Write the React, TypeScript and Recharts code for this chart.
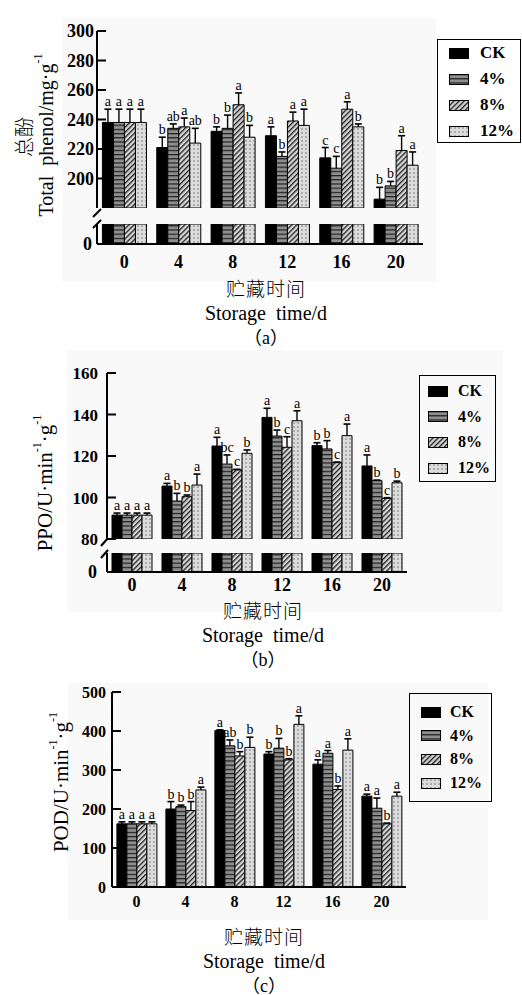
import React from 'react';
import { BarChart, Bar, XAxis, YAxis, LabelList } from 'recharts';

const days = ['0', '4', '8', '12', '16', '20'];
const treatments = ['CK', '4%', '8%', '12%'];

// (a) total phenol, mg/g
const phenolCK = [238, 221, 232, 229, 214, 186];
const phenol4 = [238, 234, 234, 215, 207, 195];
const phenol8 = [238, 235, 250, 239, 247, 219];
const phenol12 = [238, 224, 228, 236, 235, 209];
const phenolErrCK = [9, 7, 3, 6, 7, 8];
const phenolErr4 = [9, 3, 9, 3, 8, 3];
const phenolErr8 = [9, 6, 8, 6, 5, 10];
const phenolErr12 = [9, 10, 8, 11, 2, 9];
const phenolSigCK = ['a', 'b', 'b', 'a', 'c', 'b'];
const phenolSig4 = ['a', 'ab', 'b', 'b', 'c', 'b'];
const phenolSig8 = ['a', 'a', 'a', 'a', 'a', 'a'];
const phenolSig12 = ['a', 'ab', 'b', 'a', 'b', 'a'];

// (b) PPO
const ppoCK = [91.5, 105.5, 124.8, 138.6, 125, 115.2];
const ppo4 = [91.5, 98.3, 116.1, 129.6, 123.4, 108.1];
const ppo8 = [91.5, 100.4, 113.3, 124.2, 116.8, 99.6];
const ppo12 = [91.5, 106, 121.3, 137, 129.8, 107.1];
const ppoErrCK = [1, 1.3, 4.2, 4.4, 1.4, 5.3];
const ppoErr4 = [1, 3.7, 4.4, 2.9, 4, 0.3];
const ppoErr8 = [1, 0.8, 0.3, 5.1, 0.3, 0.3];
const ppoErr12 = [1, 5.3, 1.6, 4.8, 5.6, 0.8];
const ppoSigCK = ['a', 'a', 'a', 'a', 'b', 'a'];
const ppoSig4 = ['a', 'b', 'bc', 'b', 'b', 'b'];
const ppoSig8 = ['a', 'b', 'c', 'c', 'c', 'c'];
const ppoSig12 = ['a', 'a', 'b', 'a', 'a', 'b'];

// (c) POD
const podCK = [162, 200, 401, 341, 315, 233];
const pod4 = [162, 206, 362, 356, 343, 202];
const pod8 = [162, 196, 336, 326, 250, 162];
const pod12 = [162, 249, 358, 417, 351, 233];
const podErrCK = [5, 19, 2, 6, 11, 5];
const podErr4 = [5, 4, 15, 25, 7, 26];
const podErr8 = [5, 23, 11, 3, 9, 2];
const podErr12 = [5, 7, 26, 22, 29, 10];
const podSigCK = ['a', 'b', 'a', 'b', 'a', 'a'];
const podSig4 = ['a', 'b', 'ab', 'b', 'a', 'a'];
const podSig8 = ['a', 'b', 'b', 'b', 'b', 'b'];
const podSig12 = ['a', 'a', 'b', 'a', 'a', 'a'];

const keys = ['ck', 'p4', 'p8', 'p12'];
const fills = ['#000', 'url(#hstripe)', 'url(#diag)', 'url(#dots)'];

const makeRows = (vals: number[][], errs: number[][], sigs: string[][]) =>
  days.map((d, i) => {
    const row: any = { day: d };
    keys.forEach((k, j) => {
      row[k] = vals[j][i];
      row[k + 'Err'] = errs[j][i];
      row[k + 'Sig'] = sigs[j][i];
    });
    return row;
  });

const phenolRows = makeRows(
  [phenolCK, phenol4, phenol8, phenol12],
  [phenolErrCK, phenolErr4, phenolErr8, phenolErr12],
  [phenolSigCK, phenolSig4, phenolSig8, phenolSig12]
);
const ppoRows = makeRows(
  [ppoCK, ppo4, ppo8, ppo12],
  [ppoErrCK, ppoErr4, ppoErr8, ppoErr12],
  [ppoSigCK, ppoSig4, ppoSig8, ppoSig12]
);
const podRows = makeRows(
  [podCK, pod4, pod8, pod12],
  [podErrCK, podErr4, podErr8, podErr12],
  [podSigCK, podSig4, podSig8, podSig12]
);

const W = 522;
const YW = 50;
const SERIF = '"Liberation Serif", "Times New Roman", serif';
const CJK = '"Noto Sans CJK SC", sans-serif';

// error bar drawn only upward, with a cap
const ErrShape = (p: any) => {
  const { x, y, width, height } = p;
  if (height == null || isNaN(y)) return null;
  const cx = x + width / 2;
  return (
    <g>
      <line x1={cx} x2={cx} y1={y} y2={y + height} stroke="#000" strokeWidth={1.4} />
      <line x1={cx - 3.5} x2={cx + 3.5} y1={y} y2={y} stroke="#000" strokeWidth={1.6} />
    </g>
  );
};

// significance letter sitting above the error bar
const SigLabel = (p: any) => {
  const vb = p.viewBox || {};
  const x = p.x ?? vb.x;
  const y = p.y ?? vb.y;
  const w = p.width ?? vb.width ?? 0;
  if (x == null || y == null) return null;
  return (
    <text x={x + w / 2} y={y - 3} textAnchor="middle" fill="#000" fontSize={14} fontFamily={SERIF}>
      {p.value}
    </text>
  );
};

interface BlockProps {
  rows: any[];
  left: number;
  right: number;
  top: number;
  bottom: number;
  domain: number[];
  ticks: number[];
  showX?: boolean;
  marks?: boolean;
  font: number;
  tickGap: number;
  xMargin?: number;
}

function Block({ rows, left, right, top, bottom, domain, ticks, showX, marks, font, tickGap, xMargin = 2 }: BlockProps) {
  const padTop = 24;
  const padBottom = showX ? 0 : 14;
  const xH = showX ? 34 : 0;
  const h = bottom - top + padTop + xH + padBottom;
  const tickStyle = { fontFamily: SERIF, fontWeight: 'bold', fontSize: font, fill: '#000' };
  return (
    <div style={{ position: 'absolute', left: 0, top: top - padTop }}>
      <BarChart
        width={W}
        height={h}
        data={rows}
        margin={{ top: padTop, right: W - right, bottom: padBottom, left: left - YW }}
        barGap={0}
        barCategoryGap="10%"
      >
        <XAxis
          dataKey="day"
          hide={!showX}
          height={xH}
          interval={0}
          axisLine={{ stroke: '#000', strokeWidth: 2 }}
          tickLine={false}
          tickMargin={xMargin}
          tick={tickStyle}
        />
        <YAxis
          width={YW}
          domain={domain}
          ticks={ticks}
          interval={0}
          allowDataOverflow
          axisLine={{ stroke: '#000', strokeWidth: 2 }}
          tickLine={{ stroke: '#000', strokeWidth: 2 }}
          tickSize={-9}
          tickMargin={tickGap + 9}
          tick={tickStyle}
        />
        {keys.map((k, j) => (
          <Bar
            key={k}
            dataKey={k}
            name={treatments[j]}
            stackId={k}
            fill={fills[j]}
            stroke="#000"
            strokeWidth={1}
            isAnimationActive={false}
          />
        ))}
        {marks &&
          keys.map((k) => (
            <Bar key={k + 'e'} dataKey={k + 'Err'} stackId={k} fill="none" shape={ErrShape} isAnimationActive={false}>
              <LabelList dataKey={k + 'Sig'} content={SigLabel} />
            </Bar>
          ))}
      </BarChart>
    </div>
  );
}

function LegendBox({ left, top, width, height, first, gap, sw, tx, font }: any) {
  return (
    <div
      style={{
        position: 'absolute',
        left,
        top,
        width,
        height,
        border: '1.5px solid #000',
        boxSizing: 'border-box',
      }}
    >
      {treatments.map((t, i) => (
        <div key={t} style={{ position: 'absolute', left: 0, top: first + i * gap - 10, height: 20, width: '100%' }}>
          <svg width={20} height={11} style={{ position: 'absolute', left: sw, top: 4.5 }}>
            <rect x={0.5} y={0.5} width={19} height={10} fill={fills[i]} stroke="#000" strokeWidth={1} />
          </svg>
          <span
            style={{
              position: 'absolute',
              left: tx,
              top: 0,
              lineHeight: '20px',
              fontFamily: SERIF,
              fontWeight: 'bold',
              fontSize: font,
            }}
          >
            {t}
          </span>
        </div>
      ))}
    </div>
  );
}

const Caption = ({ x, y, label }: { x: number; y: number; label: string }) => (
  <g>
    <text x={x} y={y} textAnchor="middle" dominantBaseline="central" fontFamily={CJK} fontSize={19} fontWeight={300} letterSpacing={1}>
      贮藏时间
    </text>
    <text x={x} y={y + 26} textAnchor="middle" dominantBaseline="central" fontFamily={SERIF} fontSize={20} style={{ whiteSpace: 'pre' }}>
      Storage  time/d
    </text>
    <text x={x} y={y + 51} textAnchor="middle" dominantBaseline="central" fontFamily={`${SERIF}, ${CJK}`} fontSize={18}>
      {`（${label}）`}
    </text>
  </g>
);

export default function App() {
  return (
    <div style={{ position: 'absolute', left: 0, top: 0, width: W, height: 995, background: '#fff', overflow: 'hidden' }}>
      <svg width={0} height={0} style={{ position: 'absolute' }}>
        <defs>
          <pattern id="hstripe" width={6} height={4.2} patternUnits="userSpaceOnUse">
            <rect width={6} height={4.2} fill="#8e8e8e" />
            <rect width={6} height={1.2} fill="#1e1e1e" />
          </pattern>
          <pattern id="diag" width={3.6} height={3.6} patternUnits="userSpaceOnUse" patternTransform="rotate(45)">
            <rect width={3.6} height={3.6} fill="#d4d4d4" />
            <rect width={1.3} height={3.6} fill="#222" />
          </pattern>
          <pattern id="dots" width={4} height={4} patternUnits="userSpaceOnUse">
            <rect width={4} height={4} fill="#dcdcdc" />
            <circle cx={2} cy={2} r={0.65} fill="#555" />
          </pattern>
        </defs>
      </svg>

      {/* faint scan backgrounds */}
      <div style={{ position: 'absolute', left: 62, top: 18, width: 374, height: 264, background: '#f9f9f9' }} />
      <div style={{ position: 'absolute', left: 67, top: 350, width: 436, height: 262, background: '#f9f9f9' }} />
      <div style={{ position: 'absolute', left: 68, top: 683, width: 420, height: 237, background: '#f9f9f9' }} />

      {/* (a) */}
      <Block rows={phenolRows} left={97} right={423} top={31} bottom={208} domain={[180, 300]} ticks={[200, 220, 240, 260, 280, 300]} marks font={18} tickGap={3} />
      <Block rows={phenolRows} left={97} right={423} top={224} bottom={244} domain={[0, 10]} ticks={[0]} showX font={18} tickGap={5} xMargin={5} />
      <LegendBox left={437} top={39} width={84} height={104} first={13} gap={26} sw={11} tx={42} font={17} />

      {/* (b) */}
      <Block rows={ppoRows} left={107} right={407} top={373} bottom={539} domain={[80, 160]} ticks={[80, 100, 120, 140, 160]} marks font={17} tickGap={9} />
      <Block rows={ppoRows} left={107} right={407} top={553} bottom={572} domain={[0, 10]} ticks={[0]} showX font={18} tickGap={10} xMargin={0} />
      <LegendBox left={419} top={375} width={77} height={107} first={15} gap={25.7} sw={8} tx={38} font={16} />

      {/* (c) */}
      <Block rows={podRows} left={112} right={406} top={692} bottom={887} domain={[0, 500]} ticks={[0, 100, 200, 300, 400, 500]} marks showX font={16} tickGap={6} xMargin={3} />
      <LegendBox left={409} top={693} width={83} height={109} first={18} gap={23.7} sw={11} tx={40} font={16} />

      {/* 总酚, rotated */}
      <div
        style={{
          position: 'absolute',
          left: 24,
          top: 137,
          transform: 'translate(-50%, -50%) rotate(-90deg)',
          fontFamily: CJK,
          fontSize: 20,
          fontWeight: 300,
          lineHeight: '22px',
          whiteSpace: 'nowrap',
        }}
      >
        总酚
      </div>

      <svg width={W} height={995} style={{ position: 'absolute', left: 0, top: 0, pointerEvents: 'none' }}>
        {/* axis breaks */}
        <line x1={93} y1={217} x2={101} y2={209} stroke="#000" strokeWidth={2} />
        <line x1={93} y1={228} x2={101} y2={220} stroke="#000" strokeWidth={2} />
        <line x1={101} y1={546} x2={108} y2={538} stroke="#000" strokeWidth={2} />
        <line x1={101} y1={558} x2={108} y2={550} stroke="#000" strokeWidth={2} />

        {/* y titles */}
        <text transform="translate(46,135) rotate(-90)" textAnchor="middle" dominantBaseline="central" fontFamily={SERIF} fontSize={20} style={{ whiteSpace: 'pre' }}>
          <tspan>{'Total  phenol/mg·g'}</tspan>
          <tspan dy={-8} fontSize={12}>-1</tspan>
        </text>
        <text transform="translate(45,483) rotate(-90)" textAnchor="middle" dominantBaseline="central" fontFamily={SERIF} fontSize={21}>
          <tspan>PPO/U·min</tspan>
          <tspan dy={-8} fontSize={12}>-1</tspan>
          <tspan dy={8}>·g</tspan>
          <tspan dy={-8} fontSize={12}>-1</tspan>
        </text>
        <text transform="translate(61,782) rotate(-90)" textAnchor="middle" dominantBaseline="central" fontFamily={SERIF} fontSize={21}>
          <tspan>POD/U·min</tspan>
          <tspan dy={-8} fontSize={12}>-1</tspan>
          <tspan dy={8}>·g</tspan>
          <tspan dy={-8} fontSize={12}>-1</tspan>
        </text>

        <Caption x={266} y={287} label="a" />
        <Caption x={263} y={609} label="b" />
        <Caption x={264} y={935} label="c" />
      </svg>
    </div>
  );
}
